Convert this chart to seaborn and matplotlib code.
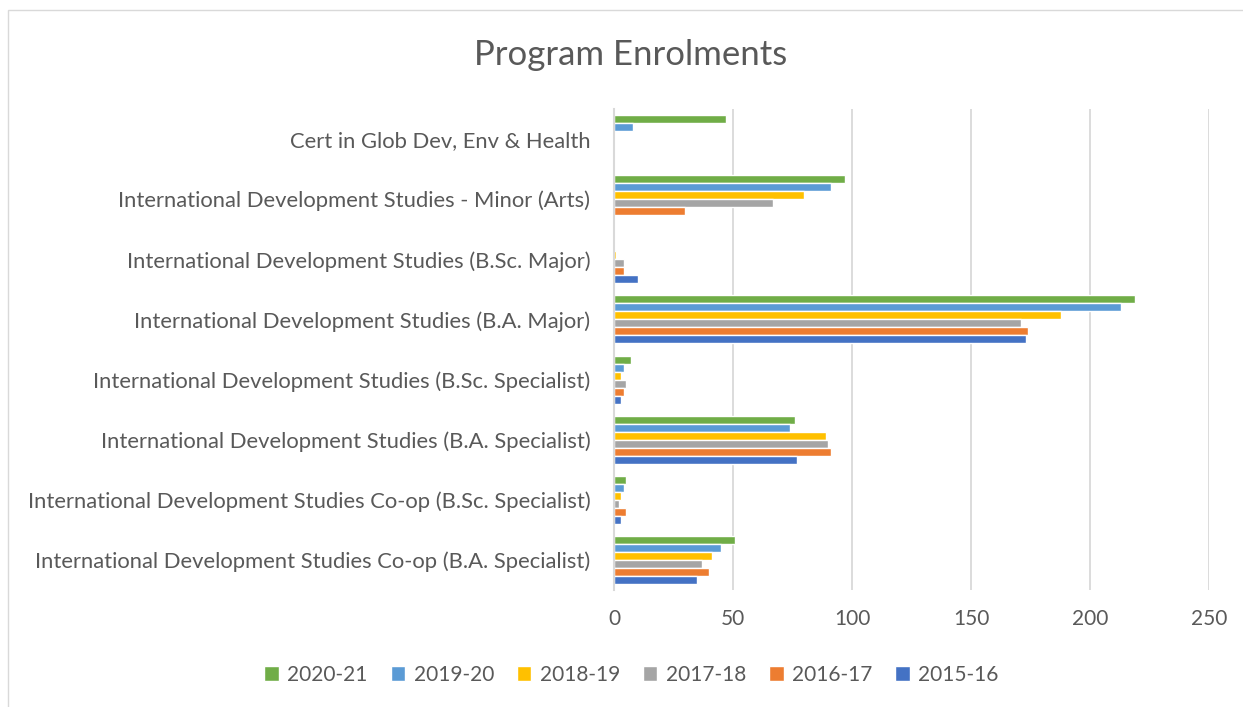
import matplotlib
matplotlib.use("Agg")
import matplotlib.pyplot as plt
import seaborn as sns
import pandas as pd
from matplotlib.patches import Rectangle

programs = [
    "Cert in Glob Dev, Env & Health",
    "International Development Studies - Minor (Arts)",
    "International Development Studies (B.Sc. Major)",
    "International Development Studies (B.A. Major)",
    "International Development Studies (B.Sc. Specialist)",
    "International Development Studies (B.A. Specialist)",
    "International Development Studies Co-op (B.Sc. Specialist)",
    "International Development Studies Co-op (B.A. Specialist)",
]
years = ["2020-21", "2019-20", "2018-19", "2017-18", "2016-17", "2015-16"]

v_2020_21 = [47, 97, 0, 219, 7, 76, 5, 51]
v_2019_20 = [8, 91, 0, 213, 4, 74, 4, 45]
v_2018_19 = [0, 80, 1, 188, 3, 89, 3, 41]
v_2017_18 = [0, 67, 4, 171, 5, 90, 2, 37]
v_2016_17 = [0, 30, 4, 174, 4, 91, 5, 40]
v_2015_16 = [0, 0, 10, 173, 3, 77, 3, 35]

colors = ["#70AD47", "#5B9BD5", "#FFC000", "#A5A5A5", "#ED7D31", "#4472C4"]

series = [v_2020_21, v_2019_20, v_2018_19, v_2017_18, v_2016_17, v_2015_16]
rows = []
for y, vals in zip(years, series):
    for p, v in zip(programs, vals):
        rows.append({"Program": p, "Year": y, "Enrolment": v})
df = pd.DataFrame(rows)

sns.set_theme(style="white")
plt.rcParams["font.family"] = ["Lato", "DejaVu Sans"]
text_color = "#595959"

fig = plt.figure(figsize=(12.43, 7.07), dpi=100)
ax = fig.add_axes([614 / 1243, 1 - 590 / 707, (1209 - 614) / 1243, (590 - 109) / 707])

sns.barplot(data=df, y="Program", x="Enrolment", hue="Year", order=programs,
            hue_order=years, palette=colors, orient="h", width=0.8,
            saturation=1, ax=ax, legend=True)

ax.set_xlim(0, 250)
ax.set_xticks([0, 50, 100, 150, 200, 250])
ax.set_xlabel("")
ax.set_ylabel("")
ax.grid(axis="x", color="#D9D9D9", linewidth=1.3)
ax.set_axisbelow(True)
for s in ["top", "right", "bottom"]:
    ax.spines[s].set_visible(False)
ax.spines["left"].set_color("#D9D9D9")
ax.spines["left"].set_linewidth(1.5)
ax.tick_params(axis="x", length=0, labelsize=15, colors=text_color, pad=14)
ax.tick_params(axis="y", length=0, labelsize=15.8, colors=text_color, pad=17)

handles, labels = ax.get_legend_handles_labels()
ax.get_legend().remove()
fig.legend(handles, labels, loc="center", bbox_to_anchor=(0.508, 1 - 675 / 707),
           ncol=6, frameon=False, fontsize=15, labelcolor=text_color,
           handlelength=0.7, handleheight=0.7, handletextpad=0.4, columnspacing=1.1)

fig.text(0.5075, 1 - 55 / 707, "Program Enrolments", ha="center", va="center",
         fontsize=25, color=text_color)

fig.patches.append(Rectangle((8 / 1243, -0.01), 1.0, 1 - 10 / 707 + 0.01,
                             transform=fig.transFigure, fill=False,
                             edgecolor="#D9D9D9", linewidth=1))

fig.savefig("out.png", dpi=100)
